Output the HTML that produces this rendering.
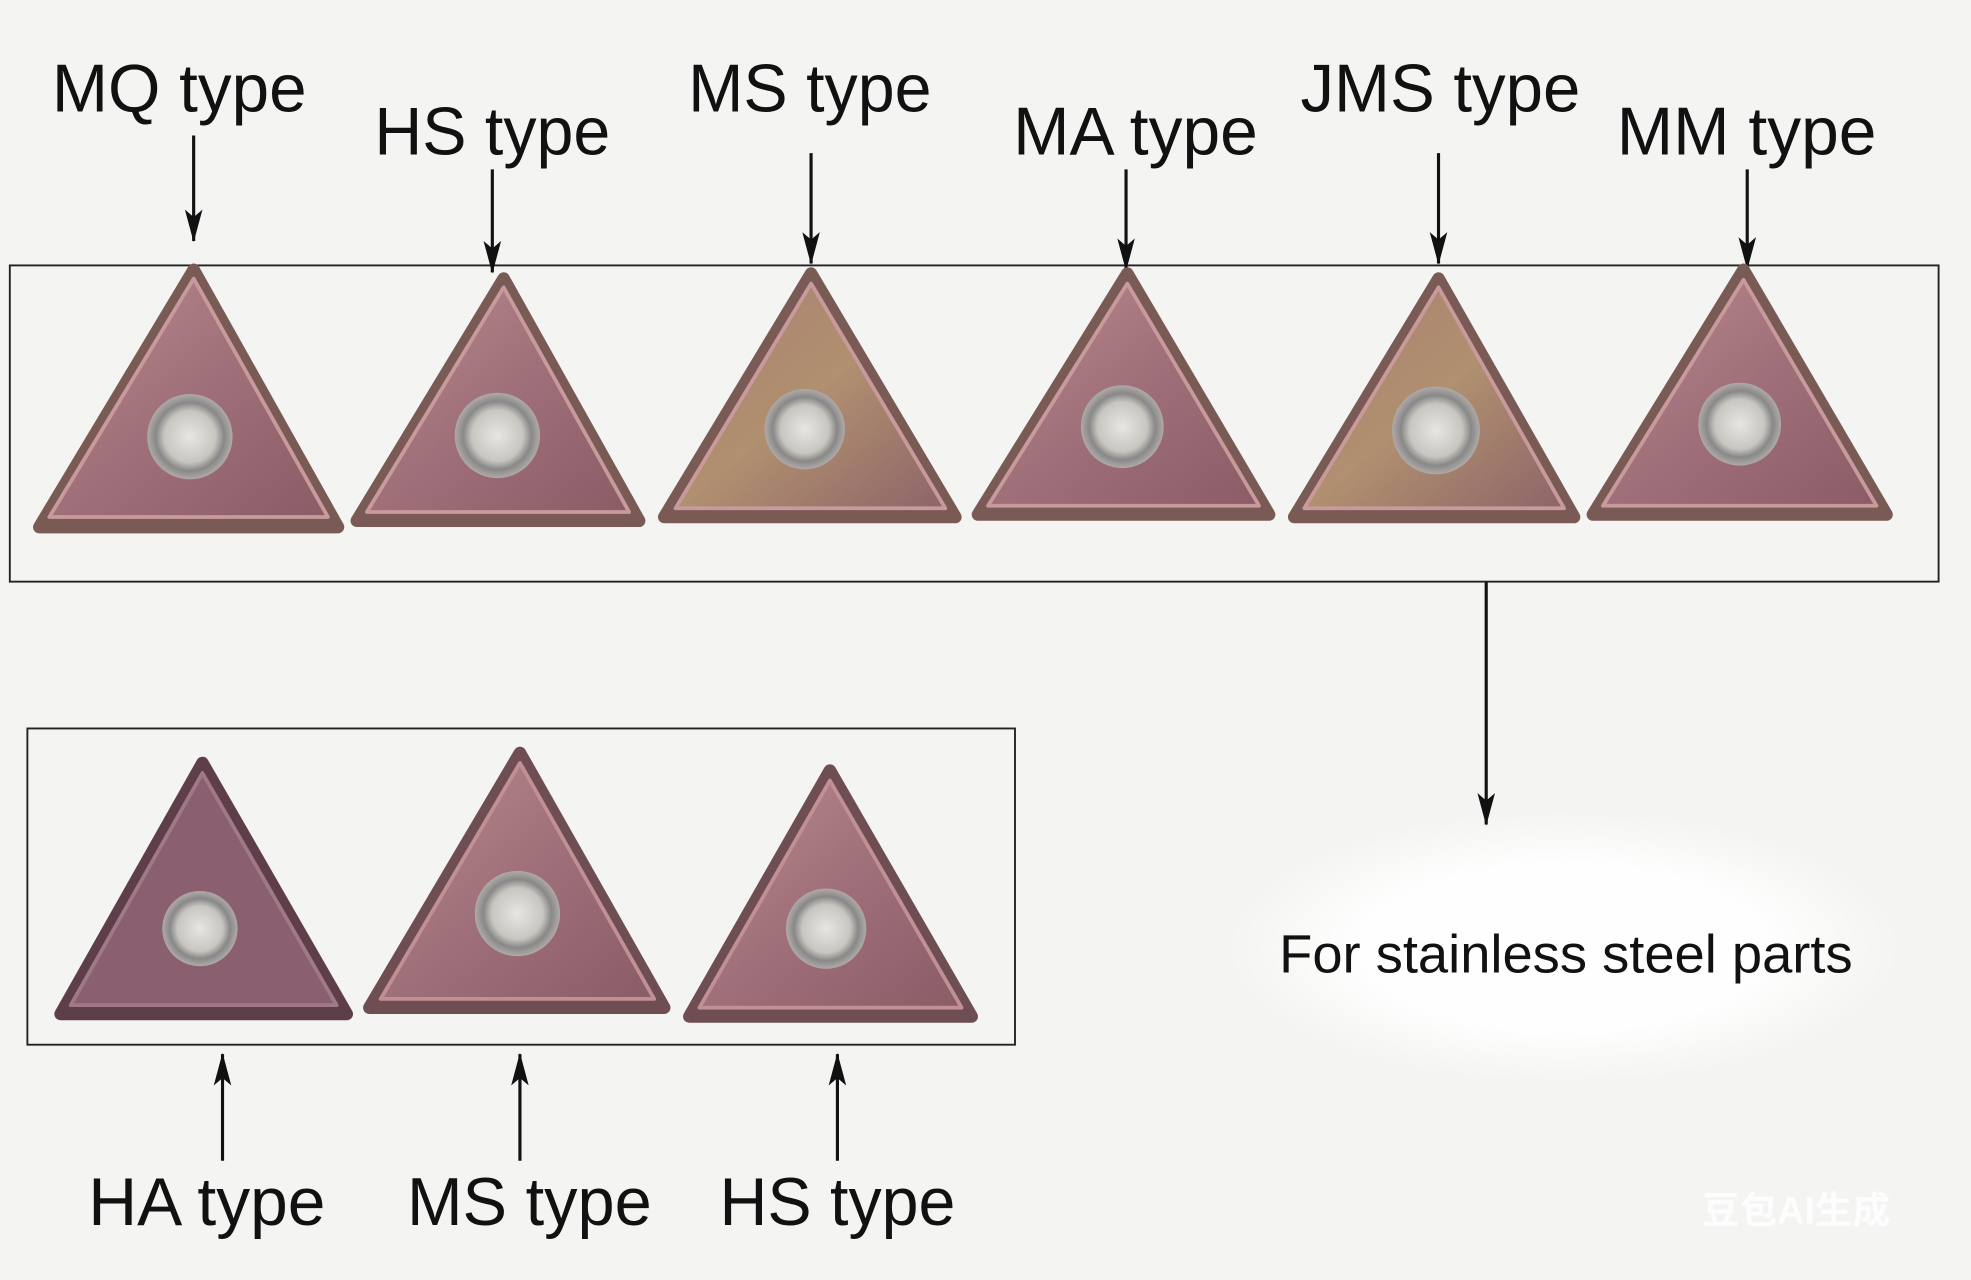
<!DOCTYPE html>
<html><head><meta charset="utf-8"><style>
html,body{margin:0;padding:0;background:#f4f4f2;}
svg{display:block;}
text{font-family:"Liberation Sans","Noto Sans CJK SC",sans-serif;fill:#111;}
</style></head><body>
<svg width="1971" height="1280" viewBox="0 0 1568 1020" xmlns="http://www.w3.org/2000/svg">
<defs>
<linearGradient id="g" x1="0" y1="0" x2="1" y2="1">
<stop offset="0" stop-color="#b98a8e"/><stop offset="0.5" stop-color="#a0707a"/><stop offset="1" stop-color="#8a5c66"/>
</linearGradient>
<linearGradient id="g2" x1="0" y1="0" x2="1" y2="1">
<stop offset="0" stop-color="#a88070"/><stop offset="0.5" stop-color="#b09070"/><stop offset="1" stop-color="#8e6468"/>
</linearGradient>
<radialGradient id="h"><stop offset="0" stop-color="#e8e6e0"/><stop offset="0.6" stop-color="#c8c6c0"/><stop offset="0.8" stop-color="#888"/><stop offset="1" stop-color="#b0aaa8"/></radialGradient>
<radialGradient id="w"><stop offset="0.6" stop-color="#ffffff" stop-opacity="0.9"/><stop offset="1" stop-color="#ffffff" stop-opacity="0"/></radialGradient>
<marker id="a" viewBox="0 0 26 14" refX="25" refY="7" markerWidth="26" markerHeight="14" orient="auto-start-reverse" markerUnits="userSpaceOnUse">
<path d="M0,0 L26,7 L0,14 L6,7 z" fill="#111"/></marker>
</defs>
<rect width="1568" height="1020" fill="#f4f4f2"/>
<ellipse cx="1245" cy="755" rx="270" ry="110" fill="url(#w)"/>

<rect x="6.5" y="211.5" width="1537" height="252" fill="none" stroke="#222" stroke-width="1.5"/>
<rect x="20.5" y="580.5" width="787" height="252" fill="none" stroke="#222" stroke-width="1.5"/>

<g font-size="54">
<text x="40" y="89" textLength="203" lengthAdjust="spacingAndGlyphs">MQ type</text>
<text x="297" y="123" textLength="188" lengthAdjust="spacingAndGlyphs">HS type</text>
<text x="547" y="89" textLength="194" lengthAdjust="spacingAndGlyphs">MS type</text>
<text x="806" y="123" textLength="195" lengthAdjust="spacingAndGlyphs">MA type</text>
<text x="1035" y="89" textLength="223" lengthAdjust="spacingAndGlyphs">JMS type</text>
<text x="1287" y="123" textLength="207" lengthAdjust="spacingAndGlyphs">MM type</text>
<text x="69" y="976" textLength="189" lengthAdjust="spacingAndGlyphs">HA type</text>
<text x="323" y="976" textLength="195" lengthAdjust="spacingAndGlyphs">MS type</text>
<text x="572" y="976" textLength="188" lengthAdjust="spacingAndGlyphs">HS type</text>
</g>
<text x="1018" y="775" font-size="43" textLength="457" lengthAdjust="spacingAndGlyphs">For stainless steel parts</text>
<text x="1355" y="975" font-size="30" style="fill:#fff;opacity:0.9;font-weight:bold">豆包AI生成</text>

<g stroke="#111" stroke-width="2.5" fill="none">
<line x1="153" y1="108" x2="153" y2="192" marker-end="url(#a)"/>
<line x1="391" y1="135" x2="391" y2="217" marker-end="url(#a)"/>
<line x1="645" y1="122" x2="645" y2="210" marker-end="url(#a)"/>
<line x1="896" y1="135" x2="896" y2="215" marker-end="url(#a)"/>
<line x1="1145" y1="122" x2="1145" y2="210" marker-end="url(#a)"/>
<line x1="1391" y1="135" x2="1391" y2="214" marker-end="url(#a)"/>
<line x1="1183" y1="464" x2="1183" y2="657" marker-end="url(#a)"/>
<line x1="176" y1="925" x2="176" y2="840" marker-end="url(#a)"/>
<line x1="413" y1="925" x2="413" y2="840" marker-end="url(#a)"/>
<line x1="666" y1="925" x2="666" y2="840" marker-end="url(#a)"/>
</g>

<g stroke-linejoin="round">
<g>
<polygon points="153,215 30,420 268,420" fill="#7a5a55" stroke="#7a5a55" stroke-width="10"/>
<polygon points="153,222 38,412 260,412" fill="url(#g)" stroke="#c99a9c" stroke-width="3"/>
<circle cx="150" cy="348" r="34" fill="url(#h)"/>
</g>
<g>
<polygon points="400,222 283,415 508,415" fill="#7a5a55" stroke="#7a5a55" stroke-width="10"/>
<polygon points="400,229 291,408 500,408" fill="url(#g)" stroke="#c99a9c" stroke-width="3"/>
<circle cx="395" cy="347" r="34" fill="url(#h)"/>
</g>
<g>
<polygon points="645,218 528,412 760,412" fill="#7a5a55" stroke="#7a5a55" stroke-width="10"/>
<polygon points="645,226 537,405 752,405" fill="url(#g2)" stroke="#c99a9c" stroke-width="3"/>
<circle cx="640" cy="342" r="32" fill="url(#h)"/>
</g>
<g>
<polygon points="897,218 778,410 1010,410" fill="#7a5a55" stroke="#7a5a55" stroke-width="10"/>
<polygon points="897,226 786,403 1002,403" fill="url(#g)" stroke="#c99a9c" stroke-width="3"/>
<circle cx="893" cy="340" r="33" fill="url(#h)"/>
</g>
<g>
<polygon points="1145,222 1030,412 1253,412" fill="#7a5a55" stroke="#7a5a55" stroke-width="10"/>
<polygon points="1145,229 1038,405 1245,405" fill="url(#g2)" stroke="#c99a9c" stroke-width="3"/>
<circle cx="1143" cy="343" r="35" fill="url(#h)"/>
</g>
<g>
<polygon points="1388,215 1268,410 1502,410" fill="#7a5a55" stroke="#7a5a55" stroke-width="10"/>
<polygon points="1388,223 1276,403 1494,403" fill="url(#g)" stroke="#c99a9c" stroke-width="3"/>
<circle cx="1385" cy="338" r="33" fill="url(#h)"/>
</g>
<g>
<polygon points="160,608 47,808 275,808" fill="#5e3e48" stroke="#5e3e48" stroke-width="10"/>
<polygon points="160,616 55,801 267,801" fill="#8a6070" stroke="#a07888" stroke-width="3"/>
<circle cx="158" cy="740" r="30" fill="url(#h)"/>
</g>
<g>
<polygon points="413,600 293,803 528,803" fill="#6e4e52" stroke="#6e4e52" stroke-width="10"/>
<polygon points="413,608 302,796 520,796" fill="url(#g)" stroke="#c09094" stroke-width="3"/>
<circle cx="411" cy="728" r="34" fill="url(#h)"/>
</g>
<g>
<polygon points="660,614 548,810 773,810" fill="#6e4e52" stroke="#6e4e52" stroke-width="10"/>
<polygon points="660,622 556,803 765,803" fill="url(#g)" stroke="#c09094" stroke-width="3"/>
<circle cx="657" cy="740" r="32" fill="url(#h)"/>
</g>
</g>
</svg>
</body></html>
